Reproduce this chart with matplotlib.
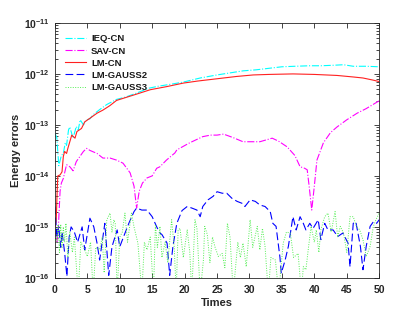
import numpy as np
import matplotlib
matplotlib.use("Agg")
import matplotlib.pyplot as plt
from matplotlib.ticker import NullFormatter, FixedLocator, LogFormatterSciNotation

plt.rcParams['font.family'] = ['Liberation Sans', 'DejaVu Sans']
plt.rcParams['font.weight'] = 'bold'
plt.rcParams['mathtext.fontset'] = 'custom'
plt.rcParams['mathtext.rm'] = 'Liberation Sans:bold'
plt.rcParams['mathtext.bf'] = 'Liberation Sans:bold'
plt.rcParams['mathtext.default'] = 'bf'

# ---- data: times and log10(energy error) ----
labels = ["IEQ-CN", "SAV-CN", "LM-CN", "LM-GAUSS2", "LM-GAUSS3"]

ieq_t = [0, 0.3, 0.6, 1.0, 1.3, 1.6, 1.8, 2.1, 2.3, 2.8, 3.3, 3.6, 3.9, 4.4, 4.9, 5.4, 5.9,
         6.9, 8.0, 9.5, 11, 12.5, 14.5, 16, 18, 19.8, 22.4, 25, 27, 29, 31, 33, 35, 37,
         39.3, 41, 43, 44.5, 46, 48, 50]
ieq_log = [-13.16, -13.25, -13.8, -13.6, -13.56, -13.35, -13.4, -13.1, -13.04, -13.26, -13.03,
           -13.1, -12.9, -13.0, -12.9, -12.88, -12.8, -12.7, -12.6, -12.5, -12.45, -12.38,
           -12.28, -12.24, -12.2, -12.16, -12.08, -12.02, -11.98, -11.94, -11.92, -11.89,
           -11.86, -11.85, -11.84, -11.84, -11.83, -11.82, -11.85, -11.85, -11.86]

sav_t = [0, 0.3, 0.5, 0.8, 1.0, 1.3, 1.8, 2.3, 2.8, 3.3, 4.4, 4.9, 5.4, 6.5, 7.4, 8.5, 9.5,
         10.5, 11.6, 12.2, 12.6, 13.0, 13.5, 14.2, 15.0, 15.7, 16.2, 17.2, 18.5, 18.8, 20.8,
         22.8, 24, 25, 26, 27.5, 29, 30.5, 31.6, 33.5, 34.5, 35.8, 37, 37.8, 38.5, 38.9,
         39.2, 39.6, 40.0, 40.4, 41.4, 42.5, 43.5, 45, 46.6, 48, 49.7, 50]
sav_log = [-15.05, -15.3, -15.1, -14.3, -14.14, -14.05, -13.78, -13.82, -13.9, -13.72, -13.52,
           -13.46, -13.5, -13.56, -13.65, -13.65, -13.69, -13.75, -13.94, -14.2, -14.63,
           -14.3, -14.14, -14.04, -14.0, -13.85, -13.82, -13.69, -13.55, -13.49, -13.35,
           -13.23, -13.2, -13.2, -13.18, -13.25, -13.33, -13.33, -13.33, -13.26, -13.32,
           -13.43, -13.6, -13.82, -13.85, -13.88, -14.2, -14.67, -14.2, -13.69, -13.35,
           -13.15, -13.04, -12.9, -12.77, -12.68, -12.55, -12.53]

lmcn_t = [0, 0.2, 0.35, 0.45, 0.8, 1.1, 1.3, 1.5, 1.8, 2.0, 2.6, 3.1, 3.4, 4.1, 4.6, 5.4,
          6.5, 7.4, 8.5, 9.5, 11, 12.5, 14.7, 17.2, 19.8, 22, 24, 26, 28, 30.6, 33, 36.7,
          40, 43.5, 46, 47.5, 49, 50]
lmcn_log = [-15.0, -14.9, -14.3, -14.0, -13.98, -13.92, -13.62, -13.52, -13.56, -13.46,
            -13.2, -13.26, -13.13, -13.07, -12.94, -12.87, -12.77, -12.71, -12.62, -12.52,
            -12.46, -12.4, -12.31, -12.25, -12.18, -12.14, -12.11, -12.08, -12.05, -12.02,
            -12.01, -12.0, -12.01, -12.03, -12.06, -12.08, -12.12, -12.15]

g2_t = [0.0, 0.3, 0.6, 0.9, 1.1, 1.5, 1.85, 2.2, 2.5, 3.0, 3.5, 4.2, 4.6, 5.4, 6.0, 6.5, 6.9,
        7.7, 8.3, 8.8, 9.6, 10.0, 10.6, 11.4, 12.2, 12.6, 13.4, 14.2, 15.0, 15.7, 16.2, 16.5,
        17.3, 17.7, 18.2, 18.8, 19.6, 20.4, 21.1, 21.9, 22.4, 22.8, 23.6, 24.4, 25.0, 25.8,
        26.5, 27.3, 28.1, 28.9, 29.3, 30.1, 30.9, 31.6, 32.4, 33.2, 33.6, 34.1, 34.7, 34.9,
        35.5, 36.0, 36.7, 37.2, 37.8, 38.3, 38.7, 39.3, 39.8, 40.6, 41.0, 41.6, 42.1, 42.9,
        43.6, 44.4, 45.2, 45.5, 46.0, 46.4, 47.1, 47.5, 48.0, 48.6, 49.1, 49.6, 50.0]
g2_log = [-14.6, -15.2, -15.0, -15.4, -15.1, -15.5, -15.97, -15.2, -15.0, -15.1, -15.3, -15.0,
          -15.45, -14.83, -15.0, -15.32, -15.65, -14.93, -15.95, -15.39, -15.06, -15.39,
          -15.19, -14.93, -14.7, -14.63, -14.67, -14.67, -14.8, -15.0, -15.12, -15.15, -15.32,
          -15.95, -15.38, -14.93, -14.68, -14.60, -14.63, -14.67, -14.80, -14.60, -14.47,
          -14.40, -14.31, -14.34, -14.34, -14.44, -14.50, -14.54, -14.60, -14.47, -14.50,
          -14.57, -14.60, -14.70, -14.93, -14.99, -15.6, -15.91, -15.65, -15.38, -14.80,
          -15.06, -14.80, -14.93, -15.06, -14.93, -15.03, -14.86, -15.25, -14.93, -15.06,
          -15.06, -15.19, -15.12, -15.32, -15.78, -14.93, -14.90, -15.38, -15.84, -15.38,
          -14.99, -14.90, -14.93, -14.86]

g3_t = [0.0, 0.3, 0.5, 0.7, 0.9, 1.1, 1.3, 1.5, 1.7, 2.0, 2.3, 2.7, 3.0, 3.6, 4.0, 4.6, 5.0,
        5.5, 5.9, 6.3, 6.9, 7.3, 7.6, 8.0, 8.5, 8.8, 9.1, 9.3, 9.6, 10.0, 10.4, 10.8, 11.2,
        11.8, 12.2, 12.8, 13.4, 13.8, 14.2, 14.7, 15.2, 15.5, 15.8, 16.2, 16.5, 17.0, 17.4,
        18.0, 18.4, 18.7, 19.0, 19.3, 19.8, 20.4, 20.8, 21.1, 21.6, 21.9, 22.4, 22.9, 23.1,
        23.5, 23.9, 24.3, 24.7, 25.2, 25.8, 26.2, 26.6, 27.0, 27.5, 28.2, 28.6, 29.0, 29.5,
        30.1, 30.5, 31.2, 31.6, 32.0, 32.4, 32.9, 33.3, 34.0, 34.5, 35.2, 35.7, 36.3, 36.8,
        37.5, 38.0, 38.3, 38.7, 39.1, 39.5, 40.0, 40.3, 40.7, 41.0, 41.6, 42.1, 42.6, 43.2,
        43.6, 44.0, 44.5, 45.0, 45.5, 46.0, 46.5, 47.0, 47.5, 48.0, 48.6, 49.1, 49.5, 50.0]
g3_log = [-15.0, -15.3, -14.95, -15.5, -14.95, -15.4, -15.0, -15.3, -14.93, -15.6, -15.1,
          -15.5, -15.2, -16.3, -15.3, -15.45, -15.58, -15.3, -16.3, -15.4, -15.45, -15.2,
          -15.9, -14.86, -14.73, -15.1, -14.86, -14.93, -16.3, -15.2, -15.1, -14.73, -15.3,
          -14.73, -15.0, -15.32, -16.3, -15.3, -15.45, -15.2, -16.3, -14.95, -15.4, -14.99,
          -15.6, -15.3, -15.7, -14.86, -15.4, -16.3, -15.06, -15.03, -15.6, -15.06, -15.5,
          -16.3, -14.86, -15.03, -16.3, -15.65, -14.99, -15.15, -15.7, -15.2, -15.4, -15.58,
          -15.52, -15.8, -14.93, -15.2, -16.3, -15.3, -15.6, -15.32, -15.78, -14.86, -15.4,
          -14.99, -15.45, -15.03, -15.38, -16.3, -15.6, -15.65, -16.3, -15.32, -15.1, -15.12,
          -15.6, -15.52, -16.3, -15.78, -15.84, -15.4, -14.99, -15.3, -15.06, -15.5, -15.06,
          -14.80, -14.73, -15.1, -14.70, -15.2, -14.99, -15.12, -15.5, -14.80, -14.80, -14.99,
          -15.06, -15.25, -15.58, -15.38, -14.99, -14.86, -14.73]

xticks = [0, 5, 10, 15, 20, 25, 30, 35, 40, 45, 50]
ytick_exponents = [-16, -15, -14, -13, -12, -11]

# ---- figure ----
fig = plt.figure(figsize=(4.19, 3.14), dpi=100)
ax = fig.add_axes([0.131, 0.115, 0.774, 0.812])

lw = 0.8
ax.plot(ieq_t, 10.0 ** np.array(ieq_log), color='#00FFFF', ls='-.', lw=lw, label=labels[0])
ax.plot(sav_t, 10.0 ** np.array(sav_log), color='#FF00FF', ls='-.', lw=lw, label=labels[1])
ax.plot(lmcn_t, 10.0 ** np.array(lmcn_log), color='#FF2020', ls='-', lw=lw, label=labels[2])
ax.plot(g2_t, 10.0 ** np.array(g2_log), color='#0000FF', ls=(0, (7, 3)), lw=lw, label=labels[3])
ax.plot(g3_t, 10.0 ** np.array(g3_log), color='#55EE55', ls=(0, (1, 1.5)), lw=0.7, label=labels[4])

ax.set_yscale('log')
ax.set_xlim(0, 50)
ax.set_ylim(1e-16, 1e-11)
ax.xaxis.set_major_locator(FixedLocator(xticks))
major_y = [10.0 ** e for e in ytick_exponents]
minor_y = [m * 10.0 ** e for e in ytick_exponents[:-1] for m in range(2, 10)]
ax.yaxis.set_major_locator(FixedLocator(major_y))
ax.yaxis.set_major_formatter(LogFormatterSciNotation())
ax.yaxis.set_minor_locator(FixedLocator(minor_y))
ax.yaxis.set_minor_formatter(NullFormatter())

ax.tick_params(which='both', direction='in', top=True, right=True, colors='#262626',
               labelcolor='#262626', labelsize=7.5, width=0.6)
ax.tick_params(which='major', length=3.5)
ax.tick_params(which='minor', length=2)
ax.tick_params(axis='x', pad=5)
for lab in ax.get_xticklabels():
    lab.set_fontweight('bold')
for s in ax.spines.values():
    s.set_color('#262626')
    s.set_linewidth(0.6)

ax.set_xlabel('Times', fontsize=8, fontweight='bold', labelpad=2, color='#262626')
ax.set_ylabel('Energy errors', fontsize=8, fontweight='bold', labelpad=2, color='#262626')

leg = ax.legend(loc='upper left', frameon=False, fontsize=6.8, handlelength=2.2,
                handletextpad=0.55, labelspacing=0.33, borderaxespad=0.0, borderpad=0.0,
                bbox_to_anchor=(0.031, 0.955))
for t in leg.get_texts():
    t.set_fontweight('bold')
    t.set_color('#1a1a1a')

fig.savefig('out.png', dpi=100)
